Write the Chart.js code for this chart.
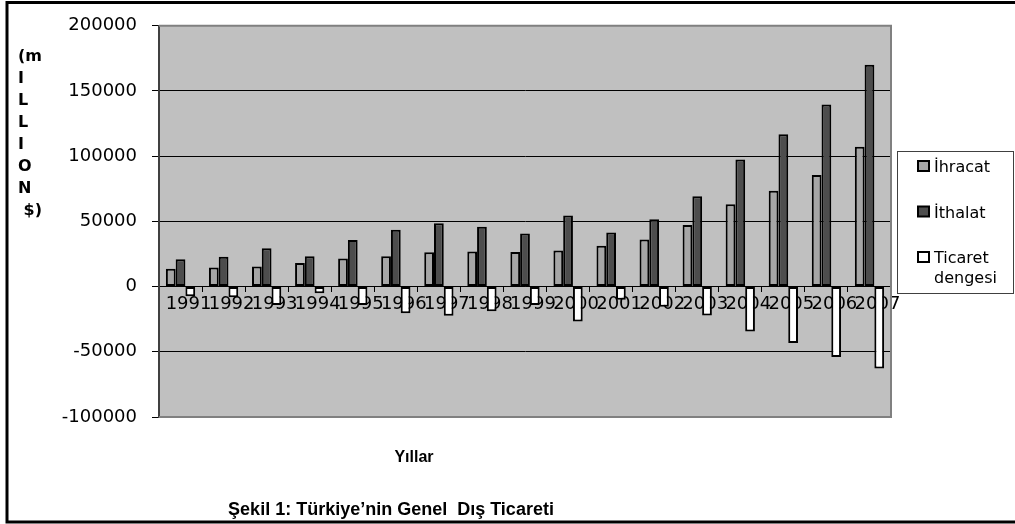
<!DOCTYPE html>
<html><head><meta charset="utf-8">
<script src="https://cdn.jsdelivr.net/npm/chart.js@4/dist/chart.umd.min.js"></script>
<style>html,body{margin:0;padding:0;background:#fff;}canvas{display:block;}</style>
</head><body>
<canvas id="c" width="1015" height="524"></canvas>
<script>
// ---- data (million $) ----
const years = ['1991','1992','1993','1994','1995','1996','1997','1998','1999','2000','2001','2002','2003','2004','2005','2006','2007'];
const ihracat = [13594, 14715, 15345, 18106, 21637, 23224, 26261, 26974, 26587, 27775, 31334, 36059, 47253, 63167, 73476, 85535, 107272];
const ithalat = [21047, 22871, 29428, 23270, 35709, 43627, 48559, 45921, 40671, 54503, 41399, 51554, 69340, 97540, 116774, 139576, 170063];
const ticaretDengesi = [-7453, -8156, -14083, -5164, -14072, -20402, -22298, -18947, -14084, -26728, -10065, -15495, -22087, -34373, -43298, -54041, -62791];
const seriesNames = ['İhracat', 'İthalat', 'Ticaret dengesi'];
const seriesColors = ['#A6A6A6', '#4D4D4D', '#FFFFFF'];
const yMin = -100000, yMax = 200000, yStep = 50000;
const yTitleLines = ['(m', 'I', 'L', 'L', 'I', 'O', 'N', ' $)'];
const xTitle = 'Yıllar';
const caption = 'Şekil 1: Türkiye’nin Genel  Dış Ticareti';

const REG = "'DejaVu Sans', 'Liberation Sans', Arial, sans-serif";
const BOLD = "'Liberation Sans', Arial, sans-serif";

const backgroundPlugin = {
  id: 'bg',
  beforeDraw(chart) {
    const {ctx, chartArea: a} = chart;
    ctx.save();
    ctx.fillStyle = '#fff';
    ctx.fillRect(0, 0, chart.width, chart.height);
    ctx.fillStyle = '#C0C0C0';
    ctx.fillRect(a.left, a.top, a.right - a.left, a.bottom - a.top);
    ctx.restore();
  }
};

const decorPlugin = {
  id: 'decor',
  afterDraw(chart) {
    const {ctx, chartArea: a} = chart;
    ctx.save();
    // plot border (top, right, bottom gray)
    ctx.strokeStyle = '#808080';
    ctx.lineWidth = 2;
    ctx.beginPath();
    ctx.moveTo(a.left, a.top); ctx.lineTo(a.right, a.top);
    ctx.lineTo(a.right, a.bottom); ctx.lineTo(a.left, a.bottom);
    ctx.stroke();

    // y-axis title (vertical letters)
    ctx.fillStyle = '#000';
    ctx.font = "bold 16px 'DejaVu Sans', sans-serif";
    ctx.textAlign = 'left';
    ctx.textBaseline = 'alphabetic';
    yTitleLines.forEach((t, i) => {
      ctx.fillText(t, 18, 61 + i * 22);
    });

    // x title and caption
    ctx.textAlign = 'center';
    ctx.font = 'bold 16px ' + BOLD;
    ctx.fillText(xTitle, 414, 462);
    ctx.font = 'bold 18px ' + BOLD;
    ctx.fillText(caption, 391, 515);

    // legend
    const lx = 897, ly = 151, lw = 117, lh = 143;
    ctx.fillStyle = '#fff';
    ctx.fillRect(lx, ly, lw, lh);
    ctx.strokeStyle = '#404040';
    ctx.lineWidth = 1;
    ctx.strokeRect(lx + 0.5, ly + 0.5, lw - 1, lh - 1);
    ctx.font = '16px ' + REG;
    ctx.textAlign = 'left';
    chart.data.datasets.forEach((ds, i) => {
      const cy = 166 + i * 45.5;
      ctx.fillStyle = ds.backgroundColor;
      ctx.fillRect(918, cy - 5, 11, 10);
      ctx.strokeStyle = '#000';
      ctx.lineWidth = 2;
      ctx.strokeRect(918, cy - 5, 11, 10);
      ctx.fillStyle = '#000';
      const words = ds.label.split(' ');
      words.forEach((w, j) => {
        ctx.fillText(w, 934, cy + 6 + j * 19.5);
      });
    });

    // outer frame
    ctx.strokeStyle = '#000';
    ctx.lineWidth = 3;
    ctx.beginPath();
    ctx.moveTo(1015, 2.5); ctx.lineTo(7, 2.5); ctx.lineTo(7, 522); ctx.lineTo(1015, 522);
    ctx.stroke();
    ctx.restore();
  }
};

new Chart(document.getElementById('c'), {
  type: 'bar',
  data: {
    labels: years,
    datasets: [
      {label: seriesNames[0], data: ihracat, backgroundColor: seriesColors[0]},
      {label: seriesNames[1], data: ithalat, backgroundColor: seriesColors[1]},
      {label: seriesNames[2], data: ticaretDengesi, backgroundColor: seriesColors[2]}
    ]
  },
  options: {
    responsive: false,
    animation: false,
    devicePixelRatio: 1,
    layout: {padding: {left: 0, top: 23, right: 124, bottom: 107}},
    datasets: {
      bar: {
        borderColor: '#000',
        borderWidth: 2,
        borderSkipped: false,
        categoryPercentage: 0.68,
        barPercentage: 1.0
      }
    },
    plugins: {
      legend: {display: false},
      tooltip: {enabled: false},
      title: {display: false}
    },
    scales: {
      x: {
        position: {y: 0},
        offset: true,
        grid: {display: true, drawOnChartArea: false, drawTicks: true, tickLength: 5, color: '#000', offset: true},
        border: {display: true, color: '#000', width: 1},
        ticks: {
          autoSkip: false, maxRotation: 0, minRotation: 0,
          color: '#000', padding: 2, labelOffset: 8,
          font: {family: REG, size: 18}
        }
      },
      y: {
        min: yMin, max: yMax,
        afterFit(scale) { scale.width = 159; },
        grid: {
          color: (c) => (c.tick && (c.tick.value === yMin || c.tick.value === yMax)) ? 'rgba(0,0,0,0)' : '#000',
          tickColor: '#000',
          tickLength: 7,
          lineWidth: 1
        },
        border: {display: true, color: '#404040', width: 2},
        ticks: {
          stepSize: yStep,
          color: '#000',
          padding: 15,
          font: {family: REG, size: 18},
          callback: (v) => String(v)
        }
      }
    }
  },
  plugins: [backgroundPlugin, decorPlugin]
});
</script>
</body></html>
